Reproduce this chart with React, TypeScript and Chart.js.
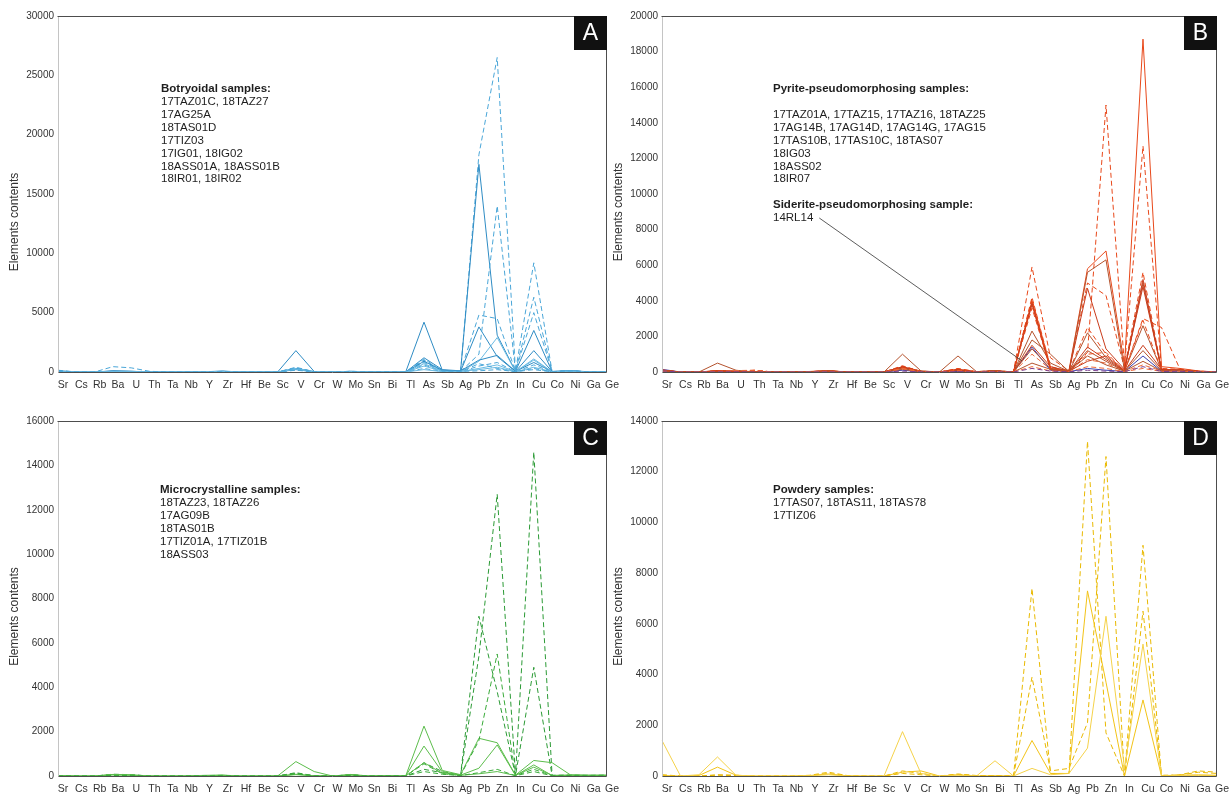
import React, { useEffect, useRef } from 'react';
import { Chart, registerables } from 'chart.js';

Chart.register(...registerables);

// ---------- categories ----------
const ELEMENTS = ['Sr','Cs','Rb','Ba','U','Th','Ta','Nb','Y','Zr','Hf','Be','Sc','V','Cr','W','Mo','Sn','Bi','Tl','As','Sb','Ag','Pb','Zn','In','Cu','Co','Ni','Ga','Ge'];

// ---------- y tick labels ----------
const A_TICKS = [0, 5000, 10000, 15000, 20000, 25000, 30000];
const B_TICKS = [0, 2000, 4000, 6000, 8000, 10000, 12000, 14000, 16000, 18000, 20000];
const C_TICKS = [0, 2000, 4000, 6000, 8000, 10000, 12000, 14000, 16000];
const D_TICKS = [0, 2000, 4000, 6000, 8000, 10000, 12000, 14000];

// ---------- panel A : botryoidal ----------
const A1 = [20,0,0,40,30, 0,0,0,10,30, 0,0,0,250,20, 0,40,0,20,0, 900,150,50,18300,26500, 80,9200,40,90,10, 0];
const A2 = [120,0,0,60,40, 0,0,0,20,50, 0,0,0,300,30, 0,60,10,30,0, 1200,200,100,17500,3100, 60,3500,30,110,20, 0];
const A3 = [30,0,0,30,20, 0,0,0,10,40, 0,0,0,350,20, 0,50,0,10,0, 1000,100,80,4800,4500, 50,6300,20,100,10, 0];
const A4 = [50,0,0,100,60, 0,0,0,20,60, 0,0,0,200,10, 0,30,0,20,0, 900,120,60,3800,1300, 40,1800,30,80,0, 0];
const A5 = [150,0,0,20,20, 0,0,0,10,30, 0,0,0,400,30, 0,60,0,10,0, 800,60,40,1500,14000, 90,5000,50,120,10, 0];
const A6 = [40,0,0,50,30, 0,0,0,10,40, 0,0,0,300,20, 0,40,0,20,0, 700,80,30,900,2900, 30,1000,20,70,0, 0];
const A7 = [60,0,0,80,60, 0,0,0,20,80, 0,0,0,1800,40, 0,50,0,30,0, 4200,150,90,1000,1400, 60,800,40,90,10, 0];
const A8 = [20,0,0,30,20, 0,0,0,10,30, 0,0,0,150,10, 0,30,0,10,0, 600,50,20,500,800, 20,600,10,60,0, 0];
const A9 = [30,0,0,40,30, 0,0,0,10,40, 0,0,0,250,20, 0,40,0,20,0, 500,70,40,300,600, 30,400,20,80,0, 0];
const A10 = [10,0,0,20,10, 0,0,0,0,20, 0,0,0,200,10, 0,20,0,10,0, 300,40,20,700,300, 10,300,10,50,0, 0];
const A11 = [20,0,0,30,20, 0,0,0,10,30, 0,0,0,280,20, 0,30,0,10,0, 200,30,60,200,400, 20,1100,20,70,0, 0];
const A12 = [40,0,0,450,350, 60,0,0,10,40, 0,0,0,320,20, 0,40,0,20,0, 1100,90,50,100,200, 30,200,10,100,10, 0];

// ---------- panel B : pyrite / siderite pseudomorphosing ----------
const B1 = [80,0,0,60,40, 100,0,0,20,60, 0,0,0,300,50, 0,200,20,80,0, 4200,300,50,1100,15000, 300,12700,200,150,50, 0];
const B2 = [120,0,0,80,50, 0,0,0,30,80, 0,0,0,250,40, 0,150,10,60,0, 4000,200,100,5800,6800, 400,18700,300,200,60, 0];
const B3 = [100,0,0,50,30, 80,0,0,20,50, 0,0,0,350,30, 0,180,10,70,0, 5900,800,60,5000,4300, 200,5600,150,100,40, 0];
const B4 = [60,0,0,40,30, 0,0,0,10,40, 0,0,0,200,20, 0,100,0,40,0, 2300,500,30,5600,6300, 100,5000,100,80,20, 0];
const B5 = [90,0,0,70,40, 0,0,0,20,70, 0,0,0,280,40, 0,120,10,50,0, 3900,150,40,4700,1300, 150,4800,120,90,30, 0];
const B6 = [70,0,0,60,30, 90,0,0,10,50, 0,0,0,320,30, 0,160,0,60,0, 4100,250,50,2500,1000, 80,3000,2500,150,40, 0];
const B7 = [50,0,0,40,20, 0,0,0,10,30, 0,0,0,150,20, 0,90,0,30,0, 1800,1000,20,2200,800, 60,2600,100,70,20, 0];
const B8 = [80,0,0,50,30, 0,0,0,20,60, 0,0,0,260,30, 0,110,0,50,0, 1500,300,40,1400,700, 50,1500,150,120,30, 0];
const B9 = [60,0,0,30,20, 0,0,0,10,40, 0,0,0,220,20, 0,80,0,40,0, 1300,200,30,1200,600, 40,1200,80,100,20, 0];
const B10 = [40,0,0,30,20, 60,0,0,10,30, 0,0,0,180,20, 0,70,0,30,0, 1000,150,20,700,500, 30,400,60,60,10, 0];
const B11 = [100,0,0,60,40, 0,0,0,20,50, 0,0,0,300,30, 0,140,0,60,0, 3800,120,50,600,900, 70,5200,120,110,30, 0];
const B12 = [70,0,0,50,30, 70,0,0,20,40, 0,0,0,240,30, 0,100,0,50,0, 3600,180,40,1000,1100, 60,2900,100,100,20, 0];
const B13 = [80,0,0,500,100, 0,0,0,20,60, 0,0,0,1000,60, 0,900,20,80,0, 500,150,50,900,400, 50,600,60,80,20, 0];
const B14 = [50,0,0,30,80, 100,0,0,10,40, 0,0,0,200,20, 0,60,0,30,0, 300,60,20,300,200, 20,200,30,50,10, 0];
const B15 = [60,0,0,10,10, 0,0,0,0,10, 0,0,0,50,10, 0,20,0,10,0, 200,50,10,100,50, 20,300,30,40,10, 0];
const B_SIDERITE = [150,0,0,20,10, 0,0,0,10,20, 0,0,0,100,10, 0,30,0,20,0, 1400,100,20,200,100, 30,900,40,60,10, 0];

// ---------- panel C : microcrystalline ----------
const C1 = [20,0,0,60,50, 0,0,0,20,30, 0,0,0,150,10, 0,60,0,10,0, 300,150,50,5400,12700, 30,14600,30,40,30, 40];
const C2 = [10,0,0,80,60, 0,0,0,20,20, 0,0,0,100,10, 0,50,0,10,0, 600,200,40,7200,3800, 20,4900,20,30,20, 30];
const C3 = [20,0,0,50,40, 0,0,0,30,40, 0,0,0,650,200, 0,70,0,20,0, 2250,250,60,1700,1500, 40,700,600,50,40, 40];
const C4 = [10,0,0,40,30, 0,0,0,10,20, 0,0,0,120,10, 0,40,0,10,0, 550,100,30,1600,5500, 20,300,20,30,20, 20];
const C5 = [10,0,0,70,50, 0,0,0,20,30, 0,0,0,80,10, 0,50,0,10,0, 1350,180,40,350,1400, 30,400,30,40,30, 30];
const C6 = [20,0,0,60,40, 0,0,0,10,30, 0,0,0,60,10, 0,40,0,10,0, 600,120,30,100,200, 20,500,20,30,20, 20];
const C7 = [10,0,0,30,20, 0,0,0,10,20, 0,0,0,100,10, 0,30,0,10,0, 200,80,20,150,300, 10,200,10,20,10, 10];

// ---------- panel D : powdery ----------
const D1 = [50,0,0,50,30, 0,0,0,30,150, 20,0,0,200,100, 0,80,20,10,0, 7400,100,100,13200,1700, 0,9100,0,50,200, 150];
const D2 = [30,0,0,30,20, 0,0,0,20,100, 10,0,0,100,50, 0,60,10,10,0, 3900,200,300,2100,12600, 0,6500,30,40,150, 100];
const D3 = [20,0,20,350,30, 0,0,0,20,80, 10,0,0,150,200, 0,50,0,10,0, 1400,100,100,7300,3700, 0,3000,0,30,30, 20];
const D4 = [1400,0,50,750,30, 0,0,0,10,50, 0,0,0,1750,100, 0,30,0,600,0, 300,50,100,1100,6300, 300,5200,0,30,50, 30];

// ---------- annotation texts ----------
const A_NOTE = ['Botryoidal samples:', '17TAZ01C, 18TAZ27', '17AG25A', '18TAS01D', '17TIZ03', '17IG01, 18IG02', '18ASS01A, 18ASS01B', '18IR01, 18IR02'];
const B_NOTE = ['Pyrite-pseudomorphosing samples:', '', '17TAZ01A, 17TAZ15, 17TAZ16, 18TAZ25', '17AG14B, 17AG14D, 17AG14G, 17AG15', '17TAS10B, 17TAS10C, 18TAS07', '18IG03', '18ASS02', '18IR07', '', 'Siderite-pseudomorphosing sample:', '14RL14'];
const C_NOTE = ['Microcrystalline samples:', '18TAZ23, 18TAZ26', '17AG09B', '18TAS01B', '17TIZ01A, 17TIZ01B', '18ASS03'];
const D_NOTE = ['Powdery samples:', '17TAS07, 18TAS11, 18TAS78', '17TIZ06'];
const Y_TITLE = 'Elements contents';

const FONT = "'Liberation Sans', Arial, Helvetica, sans-serif";

type S = { data: number[]; color: string; dashed: boolean };

const BLUE1 = '#4aa6d8', BLUE2 = '#2f8cc4', BLUE3 = '#6bbbe3';
const RED1 = '#e8481a', RED2 = '#c93c1c', RED3 = '#b4532e', RED4 = '#ee6a3a';
const GRN1 = '#3aab3a', GRN2 = '#2b9a35', GRN3 = '#5cbd4c';
const YEL1 = '#f2c318', YEL2 = '#e9b900', YEL3 = '#f5d24a';

const PANELS = [
  {
    letter: 'A', canvas: { left: 0, top: 0, w: 621, h: 400 }, area: { left: 58, right: 608, top: 16, bottom: 372 },
    ticks: A_TICKS, note: A_NOTE, noteDx: 103, noteDy: 73, titleShift: 28,
    series: [
      { data: A12, color: BLUE1, dashed: true }, { data: A11, color: BLUE3, dashed: false },
      { data: A10, color: BLUE1, dashed: true }, { data: A9, color: BLUE3, dashed: false },
      { data: A8, color: BLUE1, dashed: true }, { data: A7, color: BLUE2, dashed: false },
      { data: A6, color: BLUE3, dashed: false }, { data: A5, color: BLUE1, dashed: true },
      { data: A4, color: BLUE2, dashed: false }, { data: A3, color: BLUE1, dashed: true },
      { data: A2, color: BLUE2, dashed: false }, { data: A1, color: BLUE1, dashed: true },
    ] as S[],
  },
  {
    letter: 'B', canvas: { left: 604, top: 0, w: 627, h: 400 }, area: { left: 662, right: 1219, top: 16, bottom: 372 },
    ticks: B_TICKS, note: B_NOTE, noteDx: 111, noteDy: 73, titleShift: 18, leader: true,
    series: [
      { data: B15, color: '#7a3f8f', dashed: true }, { data: B14, color: RED4, dashed: true },
      { data: B13, color: RED3, dashed: false }, { data: B12, color: RED1, dashed: true },
      { data: B11, color: RED2, dashed: false }, { data: B10, color: RED4, dashed: true },
      { data: B9, color: RED3, dashed: false }, { data: B8, color: RED2, dashed: false },
      { data: B7, color: RED3, dashed: false }, { data: B6, color: RED1, dashed: true },
      { data: B5, color: RED2, dashed: false }, { data: B4, color: RED3, dashed: false },
      { data: B3, color: RED1, dashed: true }, { data: B2, color: RED1, dashed: false },
      { data: B1, color: RED1, dashed: true }, { data: B_SIDERITE, color: '#3b3fae', dashed: false },
    ] as S[],
  },
  {
    letter: 'C', canvas: { left: 0, top: 400, w: 621, h: 397 }, area: { left: 58, right: 608, top: 421, bottom: 776 },
    ticks: C_TICKS, note: C_NOTE, noteDx: 102, noteDy: 69, titleShift: 18,
    series: [
      { data: C7, color: GRN1, dashed: true }, { data: C6, color: GRN3, dashed: false },
      { data: C5, color: GRN3, dashed: false }, { data: C4, color: GRN1, dashed: true },
      { data: C3, color: GRN3, dashed: false }, { data: C2, color: GRN2, dashed: true },
      { data: C1, color: GRN2, dashed: true },
    ] as S[],
  },
  {
    letter: 'D', canvas: { left: 604, top: 400, w: 627, h: 397 }, area: { left: 662, right: 1219, top: 421, bottom: 776 },
    ticks: D_TICKS, note: D_NOTE, noteDx: 111, noteDy: 69, titleShift: 18,
    series: [
      { data: D4, color: YEL3, dashed: false }, { data: D3, color: YEL1, dashed: false },
      { data: D2, color: YEL2, dashed: true }, { data: D1, color: YEL2, dashed: true },
    ] as S[],
  },
];

const decorPlugin = {
  id: 'decor',
  afterDatasetsDraw(chart: any, _args: any, o: any) {
    const { ctx, chartArea } = chart;
    const { left, right, top, bottom } = chartArea;
    const L = Math.round(left) + 0.5, R = Math.round(right) - 0.5, T = Math.round(top) + 0.5, B = Math.round(bottom) + 0.5;
    ctx.save();
    // frame
    ctx.lineWidth = 1;
    ctx.setLineDash([]);
    ctx.strokeStyle = '#c4c4c4';
    ctx.beginPath(); ctx.moveTo(L, T); ctx.lineTo(L, B); ctx.stroke();
    ctx.strokeStyle = '#4d4d4d';
    ctx.beginPath(); ctx.moveTo(L - 1, T); ctx.lineTo(R, T); ctx.lineTo(R, B); ctx.lineTo(L, B); ctx.stroke();

    // letter box
    const bw = 33, bh = 34;
    ctx.fillStyle = '#111111';
    ctx.fillRect(Math.round(right) - bw, Math.round(top), bw, bh);
    ctx.fillStyle = '#ffffff';
    ctx.font = `23px ${FONT}`;
    ctx.textAlign = 'center';
    ctx.textBaseline = 'middle';
    ctx.fillText(o.letter, Math.round(right) - bw / 2, Math.round(top) + bh / 2 + 1);

    // note text
    const nx = left + o.noteDx;
    const ny = top + o.noteDy;
    const step = 12.9;
    ctx.textAlign = 'left';
    ctx.fillStyle = '#1e1e1e';
    let lastW = 0, lastY = 0;
    o.note.forEach((line: string, i: number) => {
      if (!line) return;
      const bold = line.endsWith(':');
      ctx.font = `${bold ? 'bold ' : ''}11.5px ${FONT}`;
      ctx.fillText(line, nx, ny + i * step);
      lastW = ctx.measureText(line).width;
      lastY = ny + i * step;
    });

    // leader line for the siderite sample
    if (o.leader) {
      const xs = chart.scales.x, ys = chart.scales.y;
      const ds = chart.data.datasets[chart.data.datasets.length - 1].data as number[];
      const f = 0.45;
      const ex = xs.getPixelForValue(19) + f * (xs.getPixelForValue(20) - xs.getPixelForValue(19));
      const ey = ys.getPixelForValue(ds[19] + f * (ds[20] - ds[19]));
      ctx.strokeStyle = '#333333';
      ctx.lineWidth = 0.8;
      ctx.beginPath();
      ctx.moveTo(nx + lastW + 6, lastY);
      ctx.lineTo(ex, ey);
      ctx.stroke();
    }

    // y title
    ctx.save();
    ctx.translate(left - 43, (top + bottom) / 2 + o.titleShift);
    ctx.rotate(-Math.PI / 2);
    ctx.font = `12px ${FONT}`;
    ctx.fillStyle = '#333333';
    ctx.textAlign = 'center';
    ctx.textBaseline = 'middle';
    ctx.fillText(Y_TITLE, 0, 0);
    ctx.restore();

    ctx.restore();
  },
};

function Panel({ p }: { p: (typeof PANELS)[number] }) {
  const ref = useRef<HTMLCanvasElement>(null);
  useEffect(() => {
    const c = p.canvas, a = p.area;
    const yWidth = a.left - c.left;
    const xHeight = c.top + c.h - a.bottom;
    const ticks = p.ticks;
    const chart = new Chart(ref.current as HTMLCanvasElement, {
      type: 'line',
      data: {
        labels: ELEMENTS,
        datasets: p.series.map((s) => ({
          data: s.data,
          borderColor: s.color,
          backgroundColor: s.color,
          borderWidth: 1,
          borderDash: s.dashed ? [5, 3] : [],
          pointRadius: 0,
          pointHoverRadius: 0,
          fill: false,
          tension: 0,
        })),
      },
      options: {
        animation: false,
        responsive: false,
        maintainAspectRatio: false,
        events: [],
        layout: { padding: { top: a.top - c.top, right: c.left + c.w - a.right, left: 0, bottom: 0 } },
        plugins: {
          legend: { display: false },
          tooltip: { enabled: false },
          decor: { letter: p.letter, note: p.note, noteDx: p.noteDx, noteDy: p.noteDy, titleShift: p.titleShift, leader: !!(p as any).leader },
        } as any,
        scales: {
          x: {
            type: 'category',
            offset: false,
            grid: { display: false, drawTicks: false },
            border: { display: false },
            ticks: {
              autoSkip: false, maxRotation: 0, minRotation: 0, padding: 7, labelOffset: 5,
              color: '#333333', font: { family: FONT, size: 10.5 },
            },
            afterFit: (s: any) => { s.height = xHeight; },
          },
          y: {
            min: 0,
            max: ticks[ticks.length - 1],
            grid: { display: false, drawTicks: false },
            border: { display: false },
            ticks: {
              padding: 4, color: '#333333', font: { family: FONT, size: 10 },
              callback: (v: any) => String(v),
            },
            afterBuildTicks: (s: any) => { s.ticks = ticks.map((v) => ({ value: v })); },
            afterFit: (s: any) => { s.width = yWidth; },
          },
        },
      } as any,
      plugins: [decorPlugin as any],
    });
    return () => chart.destroy();
  }, [p]);
  return (
    <canvas
      ref={ref}
      width={p.canvas.w}
      height={p.canvas.h}
      style={{ position: 'absolute', left: p.canvas.left, top: p.canvas.top, width: p.canvas.w, height: p.canvas.h }}
    />
  );
}

export default function App() {
  return (
    <div style={{ position: 'absolute', left: 0, top: 0, width: 1231, height: 797, background: '#ffffff', overflow: 'hidden' }}>
      {PANELS.map((p) => (
        <Panel key={p.letter} p={p} />
      ))}
    </div>
  );
}
